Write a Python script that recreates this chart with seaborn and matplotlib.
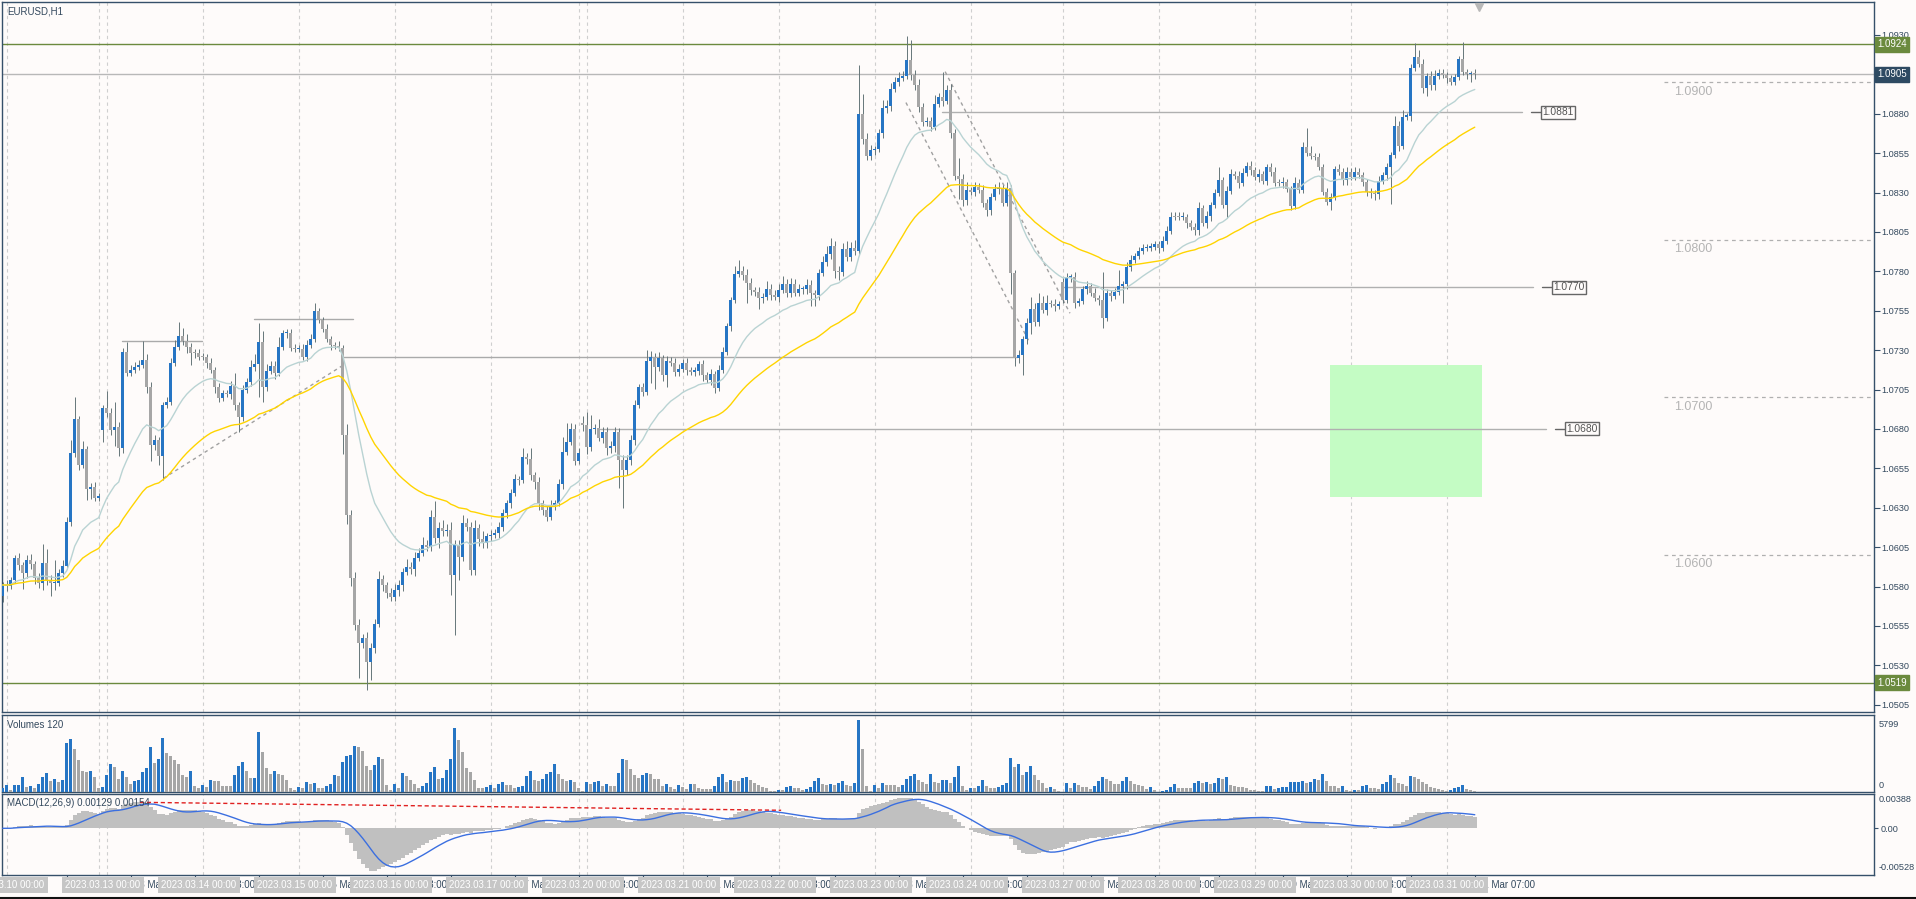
import numpy as np
import pandas as pd
import seaborn as sns
import matplotlib.pyplot as plt
import matplotlib.transforms as mtrans
from matplotlib.patches import Rectangle

## EURUSD H1, bars from 2023.03.09 23:00 to 2023.03.31 07:00
## closes, opens = previous close except after the weekends

close_a = [
    1.05810, 1.05804, 1.05842, 1.05980, 1.05937, 1.05884, 1.05969, 1.05944, 1.05853, 1.05821,
    1.05948, 1.05842, 1.05821, 1.05821, 1.05889, 1.05931, 1.06212, 1.06650, 1.06864, 1.06572,
    1.06671, 1.06417, 1.06434, 1.06360, 1.06375,
    1.06931, 1.06904, 1.06794, 1.06811, 1.06678, 1.07291, 1.07158, 1.07175, 1.07196, 1.07206,
    1.07238, 1.07069, 1.06699, 1.06730, 1.06629, 1.06953, 1.06974, 1.07217, 1.07323, 1.07390,
    1.07361, 1.07323, 1.07285, 1.07280, 1.07259, 1.07255, 1.07217, 1.07175, 1.07069, 1.06999,
    1.07027, 1.07020, 1.07073, 1.06953, 1.06878, 1.07048, 1.07101, 1.07196, 1.07213, 1.07354,
    1.07069, 1.07170, 1.07200, 1.07158, 1.07323, 1.07407, 1.07411, 1.07312, 1.07308, 1.07310,
    1.07259, 1.07333, 1.07371, 1.07549, 1.07492, 1.07435, 1.07369, 1.07333, 1.07327, 1.07312,
    1.06762, 1.06255, 1.05853, 1.05557, 1.05440, 1.05472, 1.05324, 1.05409, 1.05563, 1.05846,
    1.05810, 1.05758, 1.05736, 1.05779, 1.05810, 1.05895, 1.05927, 1.05910, 1.05980, 1.06016,
    1.06064, 1.06054, 1.06244, 1.06107, 1.06170, 1.06153, 1.06160, 1.05874, 1.06064, 1.05990,
    1.06202, 1.06181, 1.05906, 1.06170, 1.06100, 1.06075, 1.06121, 1.06128, 1.06138, 1.06181,
]
close_b = [
    1.06265, 1.06328, 1.06392, 1.06483, 1.06476, 1.06620, 1.06610, 1.06508, 1.06462, 1.06328,
    1.06286, 1.06244, 1.06318, 1.06328, 1.06451, 1.06656, 1.06715, 1.06800, 1.06599, 1.06646,
    1.06825, 1.06688, 1.06800, 1.06804, 1.06741, 1.06783, 1.06677, 1.06692, 1.06783, 1.06603,
    1.06540, 1.06603, 1.06730, 1.06952, 1.07064, 1.07037, 1.07234, 1.07255, 1.07195, 1.07248,
    1.07143, 1.07234, 1.07217, 1.07164, 1.07181, 1.07221, 1.07174, 1.07164, 1.07165, 1.07210,
    1.07143, 1.07111, 1.07149, 1.07058, 1.07174, 1.07291, 1.07454, 1.07618, 1.07783, 1.07805,
    1.07777, 1.07728, 1.07682, 1.07672, 1.07629, 1.07635, 1.07688, 1.07650, 1.07635, 1.07682,
    1.07720, 1.07665, 1.07720, 1.07665, 1.07688, 1.07689, 1.07714, 1.07661, 1.07650, 1.07788,
    1.07857, 1.07910, 1.07963, 1.07805, 1.07798, 1.07940, 1.07893, 1.07946, 1.07932, 1.08797,
    1.08638, 1.08534, 1.08570, 1.08577, 1.08676, 1.08835, 1.08849, 1.08955, 1.09004, 1.09025,
    1.09040, 1.09141, 1.09046, 1.08983, 1.08841, 1.08750, 1.08752, 1.08718, 1.08862, 1.08904,
    1.08881, 1.08951, 1.08676, 1.08407, 1.08386, 1.08253, 1.08316, 1.08306, 1.08338, 1.08316,
    1.08236, 1.08190, 1.08270, 1.08323, 1.08327,
]
close_c = [
    1.08236, 1.08327, 1.07788, 1.07248, 1.07270, 1.07369, 1.07475, 1.07559, 1.07481, 1.07602,
    1.07555, 1.07597, 1.07593, 1.07580, 1.07591, 1.07618, 1.07762, 1.07766, 1.07597, 1.07612,
    1.07686, 1.07707, 1.07665, 1.07633, 1.07618, 1.07502, 1.07661, 1.07644, 1.07667, 1.07707,
    1.07720, 1.07830, 1.07872, 1.07898, 1.07932, 1.07946, 1.07951, 1.07957, 1.07974, 1.07946,
    1.07995, 1.08058, 1.08147, 1.08145, 1.08143, 1.08146, 1.08105, 1.08084, 1.08063, 1.08200,
    1.08105, 1.08151, 1.08221, 1.08295, 1.08380, 1.08221, 1.08312, 1.08418, 1.08407, 1.08359,
    1.08426, 1.08471, 1.08443, 1.08397, 1.08418, 1.08376, 1.08460, 1.08433, 1.08363, 1.08359,
    1.08369, 1.08323, 1.08217, 1.08359, 1.08316, 1.08591, 1.08553, 1.08532, 1.08528, 1.08460,
    1.08306, 1.08242, 1.08274, 1.08450, 1.08433, 1.08380, 1.08433, 1.08397, 1.08433, 1.08412,
    1.08369, 1.08306, 1.08295, 1.08291, 1.08376, 1.08412, 1.08460, 1.08539, 1.08723, 1.08596,
    1.08782, 1.08784, 1.09093, 1.09162, 1.09116, 1.08962, 1.09040, 1.08983, 1.09040, 1.09061,
    1.09046, 1.09025, 1.09004, 1.09031, 1.09148, 1.09067, 1.09052, 1.09054, 1.09052,
]
first_open = 1.05740
gap_open = {25: 1.06794, 145: 1.06840, 265: 1.07735}

# wick length above / below the body, in pips
wick_hi = [
    2, 3, 2, 2, 3, 2, 3, 4, 2, 3, 12, 9, 3, 15, 2, 4, 3, 8, 14, 2, 5, 2, 2, 3, 2,
    2, 11, 3, 16, 3, 2, 6, 3, 3, 3, 12, 4, 3, 3, 2, 2, 3, 3, 4, 9, 5, 4, 2, 2, 3,
    2, 2, 3, 2, 2, 2, 2, 3, 8, 2, 3, 2, 4, 6, 12, 7, 4, 3, 3, 6, 2, 2, 2, 3, 2,
    3, 3, 3, 5, 2, 2, 3, 2, 2, 3, 2, 7, 3, 4, 4, 3, 4, 3, 3, 5, 3, 2, 3, 4, 3,
    2, 5, 3, 4, 3, 5, 3, 4, 10, 4, 5, 4, 5, 3, 3, 5, 3, 3, 5, 3, 5, 2, 3, 3, 3,
    3, 2, 3, 3, 2, 6, 3, 7, 2, 3, 2, 3, 3, 2, 3, 9, 12, 4, 3, 3, 4, 8, 9, 3, 6,
    3, 3, 3, 3, 2, 3, 3, 3, 3, 2, 3, 7, 4, 3, 4, 2, 3, 2, 3, 3, 2, 3, 2, 3, 2,
    3, 2, 3, 2, 3, 3, 2, 2, 5, 7, 3, 4, 3, 2, 3, 3, 5, 3, 3, 4, 5, 3, 4, 3, 3,
    2, 4, 3, 2, 3, 4, 5, 5, 3, 3, 4, 5, 4, 5, 31, 13, 4, 3, 2, 3, 5, 4, 4, 3, 4,
    3, 15, 13, 3, 4, 3, 3, 3, 6, 3, 16, 3, 4, 3, 11, 3, 5, 2, 3, 2, 3, 2, 3, 3, 4,
    2, 4, 2, 2, 3, 2, 3, 8, 4, 6, 4, 5, 2, 3, 2, 2, 3, 2, 3, 2, 2, 3, 2, 3, 2,
    18, 3, 2, 3, 10, 2, 3, 3, 2, 2, 3, 2, 2, 2, 2, 3, 3, 3, 3, 3, 3, 2, 2, 2, 4,
    2, 3, 2, 3, 8, 2, 3, 3, 2, 3, 3, 2, 3, 2, 3, 2, 2, 3, 3, 2, 3, 2, 2, 4, 3,
    3, 12, 4, 2, 2, 2, 2, 2, 2, 3, 2, 3, 2, 3, 2, 2, 2, 2, 2, 3, 2, 3, 2, 6, 3,
    4, 2, 2, 9, 4, 3, 2, 3, 4, 2, 2, 2, 2, 2, 2, 11, 2, 2, 3,
]
wick_lo = [
    4, 3, 2, 2, 3, 10, 3, 3, 4, 3, 4, 3, 8, 4, 2, 3, 2, 3, 3, 3, 2, 7, 6, 2, 2,
    8, 3, 3, 10, 5, 3, 2, 2, 2, 2, 2, 4, 10, 3, 6, 15, 2, 2, 2, 2, 3, 4, 8, 3, 2,
    2, 3, 2, 4, 3, 2, 2, 3, 3, 10, 3, 2, 3, 3, 21, 10, 3, 2, 4, 2, 2, 3, 2, 2, 2,
    2, 3, 2, 2, 2, 2, 2, 3, 2, 2, 12, 6, 5, 3, 22, 3, 18, 12, 3, 2, 4, 3, 3, 3, 4,
    4, 2, 3, 4, 2, 2, 3, 3, 3, 6, 3, 3, 13, 38, 15, 3, 3, 3, 3, 4, 3, 3, 3, 2, 3,
    3, 3, 3, 2, 3, 2, 3, 3, 4, 4, 3, 3, 2, 3, 2, 3, 2, 2, 3, 2, 4, 5, 3, 3, 2,
    3, 4, 3, 4, 18, 24, 3, 3, 3, 2, 3, 2, 14, 14, 3, 4, 8, 2, 3, 3, 2, 3, 2, 3, 2,
    4, 2, 3, 3, 2, 2, 2, 3, 2, 2, 3, 13, 3, 3, 7, 3, 2, 3, 2, 3, 2, 3, 3, 2, 2,
    3, 3, 8, 7, 3, 2, 2, 3, 5, 5, 3, 3, 3, 3, 3, 3, 3, 3, 3, 2, 3, 3, 3, 2, 3,
    2, 2, 3, 3, 3, 3, 3, 3, 2, 2, 3, 2, 3, 3, 13, 4, 3, 2, 3, 2, 3, 4, 3, 2, 3,
    2, 2, 13, 5, 3, 13, 3, 7, 3, 3, 2, 3, 2, 3, 2, 2, 2, 3, 3, 2, 2, 3, 2, 2, 3,
    6, 2, 3, 2, 2, 11, 3, 3, 2, 2, 2, 2, 2, 2, 3, 2, 2, 2, 2, 2, 2, 3, 2, 3, 3,
    2, 3, 3, 2, 2, 2, 8, 2, 2, 3, 2, 2, 3, 2, 3, 2, 3, 3, 2, 2, 3, 2, 3, 2, 2,
    2, 2, 2, 2, 2, 2, 2, 5, 2, 2, 3, 3, 2, 2, 2, 3, 3, 3, 4, 3, 2, 3, 23, 2, 3,
    2, 2, 3, 2, 2, 3, 5, 3, 3, 2, 2, 3, 2, 2, 2, 2, 3, 5, 3,
]

# tick volume per bar
volume = [
    299, 570, 190, 570, 599, 1168, 408, 462, 353, 625, 1223, 1495, 897, 1033, 842, 978,
    3941, 4239, 3424, 2609, 1657, 1576, 1712, 1223, 353,
    408, 1386, 2283, 1984, 1087, 1712, 1223, 679, 897, 978, 1631, 1957, 3588, 2365, 2636,
    4322, 3152, 2908, 2582, 2256, 1386, 1196, 1712, 489, 299,
    570, 408, 978, 897, 880, 489, 470, 460, 1386, 2120, 2419, 1712, 1142, 1166, 4811,
    3261, 1929, 1440, 1712, 1440, 1386, 978, 299, 136, 408,
    299, 789, 625, 734, 353, 299, 489, 625, 1386, 1304, 2391, 2880, 2990, 3669, 3614,
    3288, 2120, 1767, 2140, 2854, 2663, 570, 136, 625, 299, 1495, 1278, 951, 679, 353,
    462, 761, 1631, 2012, 1060, 1114, 1767, 2691, 5137, 4186, 3207, 1929, 1576, 978, 353,
    299, 408, 570, 299, 625,
    816, 571, 560, 327, 408, 490, 1306, 1714, 952, 870, 1061, 1469, 1633, 2286, 1469,
    1061, 870, 980, 816, 327,
    109, 816, 653, 843, 925, 490, 653, 490, 480, 1551, 2694, 2613, 1878, 1388, 1143,
    1388, 1551, 1469, 1061, 1050, 490, 653, 408, 245,
    571, 408, 245, 653, 640, 327, 245, 240, 235, 490, 1225, 1469, 816, 980, 898,
    890, 1088, 1225, 980, 735, 571, 408, 327, 82,
    82, 163, 160, 408, 490, 327, 320, 163, 245, 408, 898, 1143, 653, 571, 653,
    571, 735, 898, 571, 490, 735, 5799, 3431, 490,
    82, 571, 327, 735, 571, 565, 560, 408, 571, 1061, 1306, 1469, 980, 816, 653,
    1469, 816, 735, 980, 985, 735, 1225, 2124, 490,
    163, 327, 320, 490, 980, 490, 327, 320, 408, 571, 735, 2777, 2042, 2286, 1388,
    1633, 2124, 1388, 980, 735, 327, 408, 245, 82,
    40, 735, 327, 735, 571, 408, 400, 245, 490, 898, 1225, 1061, 898, 653, 650,
    898, 1225, 898, 653, 571, 490, 245, 408, 163,
    30, 82, 163, 408, 653, 327, 320, 315, 310, 735, 898, 735, 816, 653, 735,
    1143, 1061, 1225, 571, 490, 408, 400, 327, 163,
    163, 82, 80, 490, 495, 245, 327, 408, 410, 816, 830, 840, 850, 735, 816,
    1061, 980, 1469, 898, 490, 485, 327, 490, 163,
    82, 163, 160, 490, 571, 327, 320, 245, 653, 816, 1388, 1143, 735, 653, 490,
    1306, 1225, 1061, 816, 653, 408, 327, 245, 163,
    82, 163, 327, 408, 571, 245, 163, 82,
]

# levels and drawn objects on the chart
hline_levels = [1.0924, 1.0905, 1.0519]
round_levels = [1.0900, 1.0800, 1.0700, 1.0600, 1.0500]
level_segments = [  # (bar from, bar to, price)
    (29.8, 49.8, 1.07359),
    (62.8, 87.6, 1.07498),
    (85.0, 253.5, 1.07259),
]
labelled_levels = [  # (bar from, bar to, price, label)
    (234.9, 379.8, 1.0881, "1.0881"),
    (265.0, 382.6, 1.0770, "1.0770"),
    (149.3, 385.8, 1.0680, "1.0680"),
]
trend_lines = [  # (bar, price) -> (bar, price)
    ((40.2, 1.06487), (85.2, 1.07206)),
    ((225.8, 1.08871), (256.8, 1.07344)),
    ((235.6, 1.09067), (266.8, 1.07534)),
]
zone = (331.8, 369.7, 1.06367, 1.07206)
macd_trend = ((34.3, 0.00294), (194.6, 0.00204))
grid_bars = [1, 24, 26, 50, 74, 98, 122, 144, 146, 170, 194, 218, 242, 265, 289, 313, 337, 361]

# ---------------------------------------------------------------
closes = np.array(close_a + close_b + close_c)
n = len(closes)
idx = np.arange(n)
opens = np.r_[first_open, closes[:-1]]
for k, v in gap_open.items():
    opens[k] = v
highs = np.maximum(opens, closes) + np.array(wick_hi) * 1e-4
lows = np.minimum(opens, closes) - np.array(wick_lo) * 1e-4
vol = np.array(volume, dtype=float)

hours = pd.date_range("2023-03-09 23:00", periods=600, freq="h")
times = hours[hours.dayofweek < 5][:n]

df = pd.DataFrame({"bar": idx, "close": closes})
df["ma_fast"] = df["close"].ewm(span=20, adjust=False).mean()
df["ma_slow"] = df["close"].ewm(span=50, adjust=False).mean()
df["macd"] = df["close"].ewm(span=12, adjust=False).mean() - df["close"].ewm(span=26, adjust=False).mean()
df["signal"] = df["macd"].rolling(9, min_periods=1).mean()

# ---------------------------------------------------------------
sns.set_style("white")
plt.rcParams["font.family"] = ["Liberation Sans", "DejaVu Sans"]

BG = "#fefbfa"
FRAME = "#36506a"
TXT = "#34495e"
BLUE = "#2675c4"
GRAY = "#a6a6a6"
WICK = "#66767a"
OLIVE = "#6b8a3e"
FS = 6.6

W, H = 1916, 899
fig = plt.figure(figsize=(W / 100, H / 100), dpi=100, facecolor=BG)


def rect(x0, y0, x1, y1):
    return [x0 / W, 1 - y1 / H, (x1 - x0) / W, (y1 - y0) / H]


ax = fig.add_axes(rect(2, 2, 1874, 712))
axv = fig.add_axes(rect(2, 715, 1874, 792))
axm = fig.add_axes(rect(2, 794, 1874, 875))
XLIM = (-0.175, 467.8)

for a in (ax, axv, axm):
    a.set_facecolor(BG)
    a.set_xlim(*XLIM)
    for s in a.spines.values():
        s.set_color(FRAME)
        s.set_linewidth(1)
    a.set_xticks([])
    for g in grid_bars:
        a.axvline(g, color="#cfcfcf", lw=0.8, ls=(0, (3, 3)), zorder=0)

# ---- price panel ----
ax.set_ylim(1.05004, 1.09509)
up = closes >= opens
body_lo = np.minimum(opens, closes)
body_h = np.maximum(np.abs(closes - opens), 0.00007)
ax.vlines(idx, lows, highs, color=WICK, lw=0.7, zorder=3)
ax.bar(idx, body_h, bottom=body_lo, width=0.75, color=np.where(up, BLUE, GRAY), lw=0,
       zorder=4, antialiased=False)

sns.lineplot(data=df, x="bar", y="ma_fast", ax=ax, color="#b9d3d3", lw=1, zorder=5)
sns.lineplot(data=df, x="bar", y="ma_slow", ax=ax, color="#ffd400", lw=1, zorder=5)
ax.set_xlabel("")
ax.set_ylabel("")

ax.axhline(hline_levels[0], color=OLIVE, lw=1, zorder=2)
ax.axhline(hline_levels[1], color="#b8b8b8", lw=1, zorder=2)
ax.axhline(hline_levels[2], color=OLIVE, lw=1, zorder=2)

x_round = (1664 - 2) / 4 + XLIM[0]
for lv in round_levels:
    ax.plot([x_round, XLIM[1]], [lv, lv], color="#b0b0b0", lw=0.9, ls=(0, (3, 3)), zorder=2)
    if lv > 1.0550:
        ax.text(x_round + 2.5, lv - 0.00022, f"{lv:.4f}", color="#b4b4b4", fontsize=9,
                va="top", ha="left")

for x0, x1, p in level_segments:
    ax.plot([x0, x1], [p, p], color="#aaaaaa", lw=1, zorder=2)
for x0, x1, p, lab in labelled_levels:
    ax.plot([x0, x1], [p, p], color="#b0b0b0", lw=1, zorder=2)
    ax.plot([x1 + 2.3, x1 + 4.8], [p, p], color="#666666", lw=1, zorder=2)
    ax.text(x1 + 5.1, p, lab, color="#555555", fontsize=7.4, va="center", ha="left",
            bbox=dict(boxstyle="square,pad=0.15", fc=BG, ec="#666666", lw=1))
for (xa, pa), (xb, pb) in trend_lines:
    ax.plot([xa, xb], [pa, pb], color="#a0a0a0", lw=1, ls=(0, (2.5, 2.5)), zorder=2)

zx0, zx1, zp0, zp1 = zone
ax.add_patch(Rectangle((zx0, zp0), zx1 - zx0, zp1 - zp0, facecolor="#c4fcc4", edgecolor="none", zorder=1))
ax.plot([369.1], [1.0948], marker="v", color="#b8b8b8", ms=6, zorder=6)

ax.yaxis.tick_right()
ax.set_yticks(np.arange(1.0505, 1.09301, 0.0025))
ax.yaxis.set_major_formatter(plt.FormatStrFormatter("%.4f"))
ax.tick_params(axis="y", right=True, direction="out", length=4, width=0.8, color=FRAME,
               labelsize=FS, labelcolor=TXT, pad=1.5)

ytr = mtrans.blended_transform_factory(ax.transAxes, ax.transData)
for p, fc in ((1.0924, OLIVE), (1.0905, "#2e4a62"), (1.0519, OLIVE)):
    ax.text(1.0 + 3 / 1872, p, f"{p:.4f}", transform=ytr, color="white", fontsize=FS + 0.4,
            va="center", ha="left", clip_on=False,
            bbox=dict(boxstyle="square,pad=0.25", fc=fc, ec=fc))

fig.text(7 / W, 1 - 11 / H, "EURUSD,H1", fontsize=FS + 0.4, color=TXT, va="center")

# ---- volume panel ----
vcol = np.where(np.r_[True, vol[1:] > vol[:-1]], BLUE, GRAY)
axv.bar(idx, vol, width=0.75, color=vcol, lw=0, zorder=3, antialiased=False)
axv.set_ylim(0, 6202)
axv.set_yticks([])
axv.text(1.0 + 5 / 1872, 0.88, "5799", transform=axv.transAxes, fontsize=FS, color=TXT, va="center")
axv.text(1.0 + 5 / 1872, 0.09, "0", transform=axv.transAxes, fontsize=FS, color=TXT, va="center")
fig.text(7 / W, 1 - 725 / H, "Volumes 120", fontsize=FS + 0.4, color=TXT, va="center")

# ---- MACD panel ----
axm.bar(idx, df["macd"], width=1.0, color="#c0c0c0", lw=0, zorder=2, antialiased=False)
sns.lineplot(data=df, x="bar", y="signal", ax=axm, color="#3b6fe0", lw=1, zorder=4)
axm.set_xlabel("")
axm.set_ylabel("")
(mx0, my0), (mx1, my1) = macd_trend
axm.plot([mx0, mx1], [my0, my1], color="#e02020", lw=1, ls=(0, (3, 2)), zorder=5)
axm.set_ylim(-0.00528, 0.00388)
axm.yaxis.tick_right()
axm.set_yticks([0.0])
axm.set_yticklabels(["0.00"])
axm.tick_params(axis="y", right=True, direction="out", length=3, width=0.8, color=FRAME,
                labelsize=FS, labelcolor=TXT, pad=1.5)
axm.text(1.0 + 5 / 1872, 0.93, "0.00388", transform=axm.transAxes, fontsize=FS, color=TXT, va="center")
axm.text(1.0 + 5 / 1872, 0.09, "-0.00528", transform=axm.transAxes, fontsize=FS, color=TXT, va="center")
fig.text(7 / W, 1 - 803 / H, "MACD(12,26,9) 0.00129 0.00154", fontsize=FS + 0.4, color=TXT,
         va="center", zorder=10)

# ---- time axis ----
tick_bars = np.arange(16, n, 16)
axm.set_xticks(tick_bars)
axm.set_xticklabels([])
axm.tick_params(axis="x", bottom=True, direction="out", length=4, width=0.8, color=FRAME)
xtr = mtrans.blended_transform_factory(axm.transData, fig.transFigure)
ylab = 1 - 885 / H
for b in tick_bars:
    t = times[b]
    axm.text(b + 0.8, ylab, f"{t.day} Mar {t:%H:%M}", transform=xtr, fontsize=FS + 0.4,
             color=TXT, va="center", ha="left", clip_on=False, zorder=3)
for b in idx[(times.hour == 0)]:
    axm.text(b, ylab, f"{times[b]:%Y.%m.%d} 00:00", transform=xtr, fontsize=FS + 0.4,
             color="white", va="center", ha="center", clip_on=False, zorder=4,
             bbox=dict(boxstyle="square,pad=0.35", fc="#c6c6c6", ec="none"))

fig.add_artist(plt.Line2D([0, 1], [1 - 897.5 / H, 1 - 897.5 / H], color="#111111", lw=1.5))

fig.savefig("out.png", dpi=100, facecolor=BG)
